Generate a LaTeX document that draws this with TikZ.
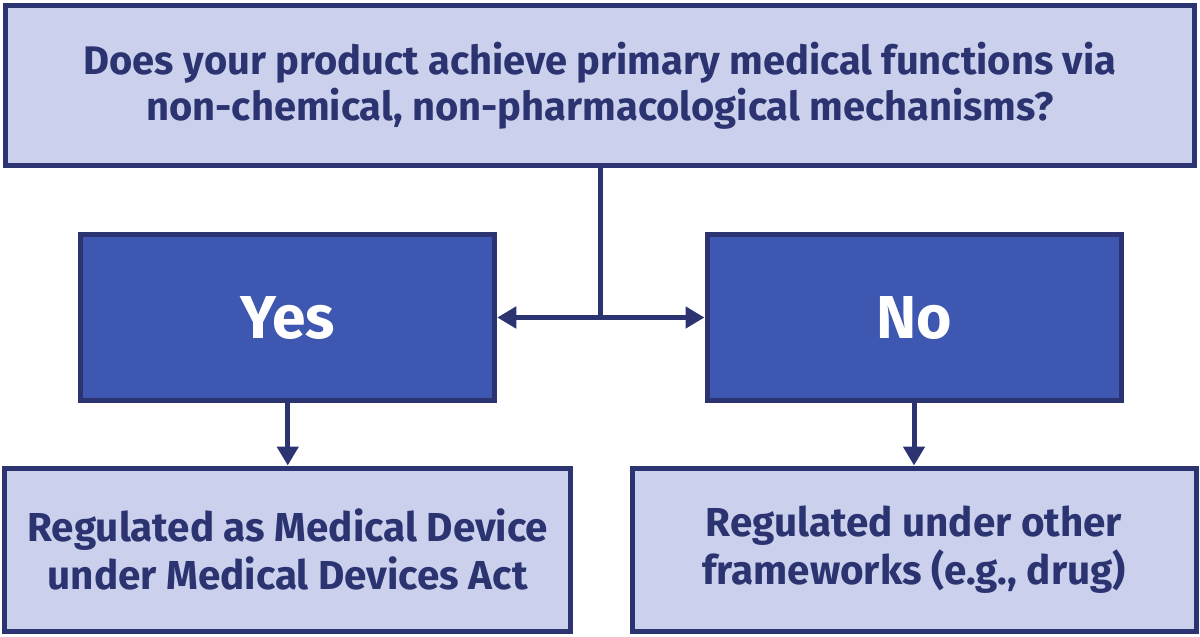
\documentclass[tikz,border=0pt]{standalone}
\usepackage{fontspec}
\setmainfont{Fira Sans}
\usetikzlibrary{positioning,arrows.meta}

\definecolor{navy}{HTML}{2B3371}
\definecolor{pale}{HTML}{CBD1EC}
\definecolor{midblue}{HTML}{3E57B0}

\begin{document}
\begin{tikzpicture}[node distance=4.64cm, on grid,
    qbox/.style={draw=navy, fill=pale, line width=0.1cm, inner sep=0pt,
      text=navy, align=center, font=\bfseries\fontsize{22.7}{26}\selectfont},
    ansbox/.style={draw=navy, fill=midblue, line width=0.1cm, inner sep=0pt,
      text=white, minimum width=8.28cm, minimum height=3.31cm,
      font=\bfseries\fontsize{34.5}{38}\selectfont},
    outbox/.style={draw=navy, fill=pale, line width=0.1cm, inner sep=0pt,
      text=navy, align=center, minimum height=3.26cm,
      font=\bfseries\fontsize{23}{27.5}\selectfont},
    link/.style={draw=navy, line width=0.1cm},
    tip/.style={-{Triangle[length=0.38cm, width=0.42cm]}}]
        \useasboundingbox (0,0) rectangle (24,-12.72);

        \node [qbox, minimum width=23.78cm, minimum height=3.2cm] (question) at (12,-1.71)
          {Does your product achieve primary medical functions via\\non-chemical, non-pharmacological mechanisms?};
        \node [ansbox, below left = 4.64cm and 6.245cm of question] (yes) {Yes};
        \node [ansbox, below right = 4.64cm and 6.28cm of question] (no) {No};
        \node [outbox, minimum width=11.32cm, below = of yes] (device)
          {Regulated as Medical Device\\under Medical Devices Act};
        \node [outbox, minimum width=11.28cm, below = of no] (other)
          {Regulated under other\\frameworks (e.g., drug)};

        \coordinate (split) at (question.south |- yes);

        \path[link] (question) -- (split);
        \path[link, {Triangle[length=0.38cm, width=0.42cm]}-{Triangle[length=0.38cm, width=0.42cm]}] (yes) -- (no);

        \path[link, tip] (yes) -- (yes |- device.north);
        \path[link, tip] (no) -- (no |- other.north);
    \end{tikzpicture}
\end{document}
